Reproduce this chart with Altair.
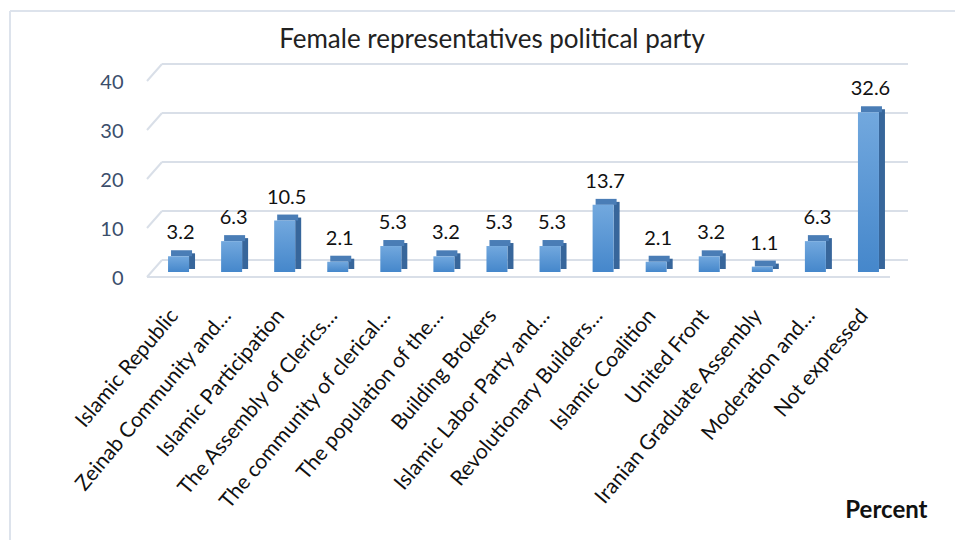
import altair as alt
import pandas as pd

categories = [
    "Islamic Republic", "Zeinab Community and…", "Islamic Participation",
    "The Assembly of Clerics…", "The community of clerical…", "The population of the…",
    "Building Brokers", "Islamic Labor Party and…", "Revolutionary Builders…",
    "Islamic Coalition", "United Front", "Iranian Graduate Assembly",
    "Moderation and…", "Not expressed",
]
values = [3.2, 6.3, 10.5, 2.1, 5.3, 3.2, 5.3, 5.3, 13.7, 2.1, 3.2, 1.1, 6.3, 32.6]
y_ticks = [0, 10, 20, 30, 40]
title_text = "Female representatives political party"
x_title = "Percent"

df = pd.DataFrame({"party": categories, "pct": values,
                   "label": [f"{v:.1f}" for v in values]})
grid_df = pd.DataFrame({"pct": y_ticks})
floor_df = pd.DataFrame({"pct": [0]})
one_df = pd.DataFrame({"k": [0]})
title_df = pd.DataFrame({"t": [title_text]})

W, H = 743, 196
FONT = "Lato"
GRID = "#d9dfe8"

x_enc = alt.X(
    "party:N", sort=None,
    scale=alt.Scale(paddingInner=0.6, paddingOuter=0.3),
    axis=alt.Axis(
        labelAngle=-50, labelAlign="right", labelBaseline="middle",
        labelFont=FONT, labelFontSize=21, labelColor="#111", labelLimit=400,
        labelPadding=40, labelOffset=-4, domain=False, ticks=False, tickSize=0,
        title=x_title, titleFont=FONT, titleFontSize=24, titleFontWeight="bold",
        titleColor="#111", titleX=775, titleY=238, titleAlign="right",
        titleBaseline="middle",
    ),
)
y_scale = alt.Scale(domain=[0, 40], nice=False, zero=True)
y_enc = alt.Y(
    "pct:Q", scale=y_scale,
    axis=alt.Axis(
        values=y_ticks, grid=False, domain=False, ticks=False, tickSize=0,
        labelPadding=29, labelFont=FONT, labelFontSize=20, labelColor="#3b4e6b",
        labelOffset=6, title=None,
    ),
)

# frame
frame_left = alt.Chart(one_df).mark_rule(color="#dde3ec", strokeWidth=2).encode(
    x=alt.value(-142), y=alt.value(-65), y2=alt.value(480))
frame_top = alt.Chart(one_df).mark_rule(color="#dde3ec", strokeWidth=2).encode(
    x=alt.value(-142), x2=alt.value(820), y=alt.value(-65))

title = alt.Chart(title_df).mark_text(font=FONT, fontSize=26, color="#222",
                                      baseline="middle", align="center").encode(
    x=alt.value(340), y=alt.value(-36), text="t:N")

# back-wall gridlines
back_grid = alt.Chart(grid_df).mark_rule(color=GRID, strokeWidth=2, yOffset=-12).encode(
    y=alt.Y("pct:Q", scale=y_scale), x=alt.value(10), x2=alt.value(756))
slant_grid = alt.Chart(grid_df).mark_rule(color=GRID, strokeWidth=2, yOffset=5, y2Offset=-12).encode(
    y=alt.Y("pct:Q", scale=y_scale), y2=alt.Y2("pct:Q"), x=alt.value(-5), x2=alt.value(10))
floor_front = alt.Chart(floor_df).mark_rule(color=GRID, strokeWidth=2, yOffset=5).encode(
    y=alt.Y("pct:Q", scale=y_scale), x=alt.value(-5), x2=alt.value(738))

base = alt.Chart(df)
side = base.mark_bar(width=6, xOffset=13.5, yOffset=-3, y2Offset=-3, color="#37669b").encode(
    x=x_enc, y=y_enc, y2=alt.datum(0))
top = base.mark_bar(width=21, xOffset=3, yOffset=-6, y2Offset=0, color="#4a7db6").encode(
    x=x_enc, y=y_enc, y2=alt.Y2("pct:Q"))
front = base.mark_bar(
    width=21,
    color=alt.Gradient(gradient="linear", x1=0, y1=0, x2=0, y2=1,
                       stops=[alt.GradientStop(offset=0, color="#72a8de"),
                              alt.GradientStop(offset=1, color="#4587cb")]),
).encode(x=x_enc, y=y_enc, y2=alt.datum(0))
labels = base.mark_text(dx=2, dy=-17, baseline="alphabetic", font=FONT, fontSize=20,
                        color="#111").encode(x=x_enc, y=y_enc, text="label:N")

chart = alt.layer(
    frame_left, frame_top, title, back_grid, slant_grid, floor_front, side, top, front, labels
).properties(
    width=W, height=H,
    padding={"left": 144, "top": 68, "right": 60, "bottom": 268},
    autosize=alt.AutoSizeParams(type="none"),
).configure_view(stroke=None)

chart.save("out.html", embed_options={"renderer": "svg", "actions": False})
